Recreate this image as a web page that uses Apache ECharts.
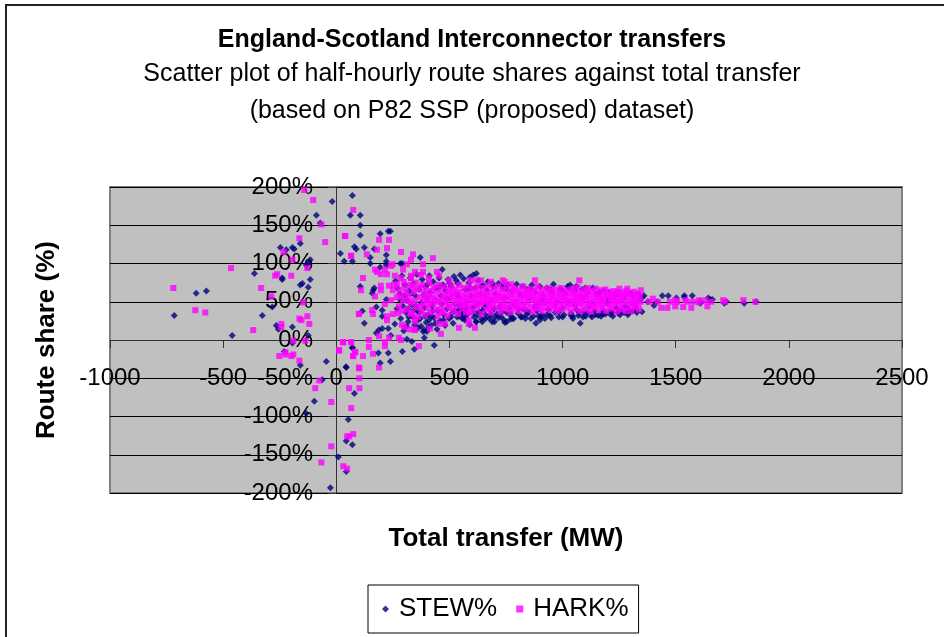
<!DOCTYPE html>
<html>
<head>
<meta charset="utf-8">
<title>England-Scotland Interconnector transfers</title>
<script src="https://cdn.jsdelivr.net/npm/echarts@6/dist/echarts.min.js"></script>
<style>
  html, body { margin: 0; padding: 0; background: #fff; }
  #chart { width: 944px; height: 637px; }
</style>
</head>
<body>
<div id="chart"></div>
<script>
const titleText = 'England-Scotland Interconnector transfers'
const subtitleLines = ['Scatter plot of half-hourly route shares against total transfer', '(based on P82 SSP (proposed) dataset)']
const xAxisName = 'Total transfer (MW)'
const yAxisName = 'Route share (%)'
const seriesNames = ['STEW%', 'HARK%']

// [MW, share %]
const stewSparse = [
  [-18,181],[71,189],[-88,163],[-71,153],[62,163],[106,163],[106,150],[106,137],[-159,126],[-247,121],[-221,118],[-194,121],[-186,119],
  [80,122],[88,119],[18,113],[-115,105],[35,103],[71,103],[-124,100],[-133,98],[-362,87],[-239,81],[-239,79],[-115,79],[-150,74],[-159,72],
  [-124,69],[106,70],[-619,61],[-574,64],[-283,43],[-716,32],[-327,32],[-265,19],[-256,14],[-194,17],[-124,6],[-460,6],
  [-194,-4],[71,-10],[-230,-15],[-44,-28],[-159,-33],[44,-36],[-62,-52],[80,-70],[-97,-80],[-133,-96],[53,-104],[44,-132],[71,-137],
  [9,-153],[44,-172],[-26,-193],
  [194,139],[230,142],[239,142],[124,121],[168,119],[150,108],[150,100],[221,111],[221,103],[221,98],[194,95],[283,100],[292,100],
  [371,108],[468,92],[548,85],[619,87],[115,38],[124,22],[159,61],[168,68],[163,65],[221,53],[177,43],[203,39],[203,31],[230,15],[188,13],
  [203,15],[177,9],[241,6],[259,21],[312,1],[334,-2],[389,3],[389,13],[409,17],[400,11],[345,-12],[433,-7],[292,-15],[186,-17],[230,-17],
  [71,-10],[194,-30],[239,-28],[43,-35],[882,22],[745,23],[753,24],[689,24],[645,24],[617,24],[779,28],
  [1078,22],[1033,72],[1855,50],[1803,48],[1724,50],[1715,48],[1644,55],[1653,53],[1662,53],[1609,50],[1609,48],[1573,58],[1538,58],[1538,56],
  [1503,55],[1467,58],[1441,58],[1404,45],[1360,58],[1351,56],[1289,33],[1254,33],[1351,37],[1377,50],[1417,50]
]
const stewDense = [
  [262,77],[270,68],[281,60],[290,84],[295,44],[303,72],[308,36],[312,52],[318,24],[322,64],[327,81],[333,46],[338,30],[341,74],[346,20],[350,58],
  [355,86],[358,38],[362,16],[367,66],[371,28],[376,49],[380,79],[384,11],[388,42],[393,70],[397,23],[402,55],[406,33],[411,84],[415,62],[419,19],
  [423,45],[428,76],[432,29],[436,52],[441,68],[445,14],[450,38],[454,81],[458,25],[463,58],[467,47],[472,72],[476,33],[481,19],[485,64],[490,41],
  [494,79],[499,28],[503,55],[507,70],[512,35],[516,22],[520,83],[525,47],[529,60],[534,30],[538,74],[542,40],[546,36],[549,44],[553,33],[556,46],
  [560,38],[563,80],[568,26],[572,66],[577,50],[581,34],[586,75],[590,20],[595,58],[600,42],[605,85],[609,30],[614,68],[619,24],[624,48],[628,78],
  [633,37],[638,60],[643,27],[648,72],[654,42],[659,33],[665,65],[670,76],[676,28],[682,52],[688,38],[693,70],[699,24],[705,60],[711,34],[717,74],
  [723,44],[729,30],[735,68],[741,26],[747,55],[753,36],[759,72],[765,42],[771,32],[778,64],[784,28],[790,50],[797,73],[803,35],[810,60],[816,30],
  [823,70],[830,40],[836,28],[843,66],[850,36],[857,54],[864,72],[871,31],[878,62],[885,38],[892,45],[900,70],[907,33],[915,58],[922,28],[930,68],
  [937,40],[945,32],[952,62],[960,73],[968,36],[975,50],[983,30],[990,66],[998,42],[1006,33],[1014,60],[1022,70],[1030,68],[1038,35],[1046,28],
  [1054,64],[1062,40],[1070,32],[1078,58],[1086,66],[1094,36],[1102,31],[1110,62],[1118,44],[1126,33],[1134,68],[1142,38],[1150,60],[1158,32],
  [1166,56],[1174,36],[1182,64],[1190,34],[1198,48],[1206,62],[1214,38],[1222,31],[1230,58],[1238,42],[1246,35],[1254,60],[1262,38],[1270,55],
  [1278,44],[1286,36],[1294,40],[1302,60],[1310,38],[1318,45],[1326,40],[1334,60],[1342,52],
  [544,31],[552,36],[558,42],[548,39],[566,34],[540,46],[320,30],[340,38],[362,26],[375,18],[392,31],[410,26],[427,38],[285,28],[298,12],[310,18],
  [476,70],[500,75],[530,78],[590,82],[640,70],[690,74],[740,72],[820,30],[860,28],[905,30],[950,29],[1000,30],[1045,31],[1090,30],[1130,30],
  [1170,31],[1210,34],[1250,36],[1300,37],[1100,68],[1060,70],[1180,34],[1240,60],[900,26],[840,33],[770,27],[700,30],[660,28],[610,36],[570,29],
  [268,41],[284,52],[302,58],[317,41],[331,61],[352,44],[369,36],[386,59],[404,73],[421,31],[438,22],[456,69],[473,26],[489,54],[506,30],[523,38],
  [539,57],[557,28],[574,41],[592,68],[611,45],[627,32],[645,38],[663,46],[681,33],[698,41],[716,29],[733,37],[752,67],[769,35],[787,46],[805,41],
  [822,58],[841,38],[858,67],[876,44],[894,31],[912,52],[931,33],[948,66],[966,44],[985,37],[1002,64],[1019,50],[1037,32],[1056,46],[1073,36],[1091,56],
  [1108,36],[1127,48],[1145,33],[1163,62],[1181,38],[1199,54],[1217,36],[1235,62],[1253,38],[1272,36],[1291,60],[1309,58],[1328,36]
]
const harkSparse = [
  [-141,196],[-102,183],[75,170],[-66,151],[40,136],[-163,133],[-49,128],[-233,115],[66,110],[-194,105],[-465,94],[-128,94],[-270,84],[-261,86],
  [-199,84],[-720,68],[-332,68],[-287,57],[-146,49],[-623,39],[-579,36],[-163,28],[-154,26],[-128,31],[-119,21],[-243,21],[-243,17],[-367,13],
  [100,34],[-190,-1],[31,-3],[66,-3],[-137,-1],[13,-14],[-225,-16],[-225,-19],[-252,-21],[-199,-21],[-190,-19],[75,-21],[84,-16],[-163,-27],
  [102,-37],[-75,-53],[102,-50],[-93,-63],[57,-63],[102,-63],[-22,-81],[66,-89],[75,-123],[48,-126],[57,-126],[-22,-139],[-66,-160],[31,-165],[48,-168],
  [38,136],[65,110],[189,131],[233,131],[224,120],[180,118],[135,112],[286,115],[339,112],[330,105],[427,107],[312,99],[383,99],[250,99],[242,97],
  [215,92],[171,92],[180,89],[197,86],[224,86],[118,81],[259,84],[295,92],[286,81],[330,84],[330,81],[348,89],[383,89],[374,85],[409,81],[445,89],
  [454,84],[498,78],[592,78],[614,78],[639,78],[683,76],[736,78],[745,76],[878,78],[772,73],[109,65],[171,57],[197,71],[197,65],[233,71],[268,73],
  [250,65],[215,47],[286,58],[295,52],[277,44],[242,52],[158,39],[162,34],[100,34],[224,31],[224,26],[250,34],[272,35],[290,20],[299,17],[348,28],
  [348,24],[348,13],[189,5],[233,3],[215,-3],[215,-8],[277,3],[286,0],[144,0],[144,-9],[29,-3],[65,-3],[12,-13],[82,-16],[74,-21],[118,-21],[162,-18],
  [365,-8],[100,-36],[189,-36],[462,8],[542,16],[613,16],[586,26],[586,21],[454,21],[480,21],[414,15],[321,14],[343,14],
  [1074,78],[1286,67],[1251,67],[1251,62],[1346,65],[1399,54],[1382,50],[1421,50],[1475,50],[1498,52],[1507,50],[1498,44],[1463,42],[1436,42],
  [1533,43],[1569,42],[1542,52],[1551,50],[1578,50],[1604,52],[1604,49],[1631,52],[1640,44],[1657,50],[1710,52],[1719,50],[1799,52],[1852,50]
]
const harkDense = [
  [305,68],[312,40],[318,58],[326,72],[331,48],[336,36],[342,63],[347,52],[352,75],[357,43],[361,30],[366,68],[370,56],[375,38],[380,72],[384,48],
  [388,61],[392,33],[397,66],[401,52],[405,42],[410,75],[414,58],[418,36],[423,64],[427,47],[431,70],[435,54],[440,40],[444,62],[448,31],[453,72],
  [457,50],[461,66],[465,43],[470,57],[474,36],[478,70],[483,60],[487,48],[491,32],[496,65],[500,54],[504,42],[509,71],[513,58],[517,37],[521,50],
  [526,66],[530,45],[534,61],[539,34],[543,72],[547,53],[551,63],[556,41],[560,57],[564,68],[569,48],[573,36],[577,60],[582,52],[586,70],[590,44],
  [594,62],[599,55],[603,38],[607,67],[612,49],[616,59],[620,42],[625,70],[629,53],[633,63],[637,46],[642,34],[646,57],[650,68],[655,50],[659,61],
  [663,40],[667,54],[672,71],[676,45],[680,63],[684,36],[689,56],[693,48],[697,67],[702,59],[706,42],[710,52],[714,70],[719,62],[723,46],[727,37],
  [731,57],[736,66],[740,50],[744,42],[749,60],[753,70],[757,54],[761,45],[766,63],[770,36],[774,57],[779,50],[783,68],[787,41],[791,60],[796,53],
  [800,47],[804,65],[808,38],[813,56],[817,62],[821,44],[826,70],[830,51],[834,58],[838,40],[843,64],[847,49],[851,55],[856,67],[860,43],[864,60],
  [868,37],[873,52],[877,65],[881,47],[885,59],[890,70],[894,41],[898,54],[903,62],[907,48],[911,38],[915,66],[920,56],[924,44],[928,60],[933,51],
  [937,68],[941,40],[945,57],[950,47],[954,63],[958,53],[962,42],[967,66],[971,58],[975,38],[980,50],[984,61],[988,45],[992,68],[997,54],[1001,40],
  [1005,60],[1009,48],[1014,65],[1018,56],[1022,43],[1027,62],[1031,51],[1035,37],[1039,67],[1044,55],[1048,46],[1052,60],[1056,41],[1061,52],
  [1065,69],[1069,47],[1074,63],[1078,38],[1082,57],[1086,50],[1091,44],[1095,66],[1099,60],[1103,40],[1108,53],[1112,68],[1116,46],[1121,58],
  [1125,37],[1129,64],[1133,50],[1138,55],[1142,43],[1146,67],[1150,61],[1155,47],[1159,39],[1163,56],[1168,65],[1172,50],[1176,42],[1180,60],
  [1185,53],[1189,66],[1193,38],[1197,47],[1202,57],[1206,63],[1210,43],[1215,50],[1219,41],[1223,60],[1227,64],[1232,47],[1236,55],[1240,37],
  [1244,62],[1249,51],[1253,44],[1257,58],[1262,40],[1266,48],[1270,55],[1274,62],[1279,38],[1283,50],[1287,60],[1291,43],[1296,56],[1300,62],
  [1304,38],[1308,47],[1313,54],[1317,63],[1321,43],[1326,60],[1330,51],[1334,47],[1338,40],[1342,57],
  [450,52],[520,60],[575,44],[630,58],[680,50],[735,44],[790,66],[845,58],[900,46],[955,56],[1010,52],[1065,58],[1120,48],[1175,54],[500,62],[610,48],
  [720,55],[830,60],[940,50],[1050,50],[1160,52],[555,52],[665,60],[775,48],[885,52],[995,60],[1105,56],[1215,58],
  [255,72],[268,56],[279,66],[292,38],[298,76],[309,62],[321,51],[329,34],[338,70],[355,66],[372,44],[391,56],[408,48],[426,55],[443,50],[462,37],
  [480,52],[498,44],[515,64],[533,52],[552,46],[571,56],[589,36],[606,52],[624,60],[643,50],[661,53],[679,42],[698,52],[717,58],[737,54],[756,40],
  [775,60],[794,44],[812,50],[831,44],[850,62],[869,56],[888,42],[907,58],[926,48],[946,64],[965,46],[986,54],[1006,56],[1026,47],[1046,62],[1067,54],
  [1088,52],[1109,64],[1131,44],[1152,56],[1173,46],[1195,60],[1216,54],[1238,50],[1260,54],[1281,64],[1303,50],[1324,56],[1346,50]
]

const stewPoints = stewSparse.concat(stewDense)
const harkPoints = harkSparse.concat(harkDense)

const chart = echarts.init(document.getElementById('chart'), null, { renderer: 'canvas' })
const font = '"Liberation Sans", Arial, sans-serif'

chart.setOption({
  animation: false,
  backgroundColor: '#fff',
  textStyle: { fontFamily: font },
  title: [
    { text: titleText, left: 'center', top: 23, textStyle: { fontFamily: font, fontSize: 25, fontWeight: 'bold', color: '#000' } },
    { text: subtitleLines[0], left: 'center', top: 57, textStyle: { fontFamily: font, fontSize: 25, fontWeight: 'normal', color: '#000' } },
    { text: subtitleLines[1], left: 'center', top: 94, textStyle: { fontFamily: font, fontSize: 25, fontWeight: 'normal', color: '#000' } }
  ],
  legend: {
    left: 368,
    top: 585,
    padding: [11, 10, 11, 14],
    itemGap: 19,
    itemWidth: 7,
    itemHeight: 7,
    borderColor: '#000',
    borderWidth: 1,
    textStyle: { fontFamily: font, fontSize: 26, color: '#000', padding: [0, 0, 0, 5] },
    data: [
      { name: seriesNames[0], icon: 'diamond' },
      { name: seriesNames[1], icon: 'rect' }
    ]
  },
  grid: {
    left: 110,
    top: 187,
    width: 792,
    height: 306,
    outerBoundsMode: 'none',
    show: true,
    backgroundColor: '#C0C0C0',
    borderColor: '#808080',
    borderWidth: 2
  },
  xAxis: {
    type: 'value',
    min: -1000,
    max: 2500,
    interval: 500,
    name: xAxisName,
    nameLocation: 'middle',
    nameGap: 33,
    nameMoveOverlap: false,
    nameTextStyle: { fontFamily: font, fontSize: 26, fontWeight: 'bold', color: '#000', letterSpacing: 1.8 },
    axisLine: { onZero: true, lineStyle: { color: '#333', width: 1 } },
    axisTick: { show: true, length: 8, lineStyle: { color: '#333' } },
    // labels sit at the plot edge here, so pull them back up to the zero line
    axisLabel: { margin: -127, fontSize: 24, color: '#000', formatter: (v) => String(v), hideOverlap: false, showMinLabel: true, showMaxLabel: true },
    splitLine: { show: false }
  },
  yAxis: {
    type: 'value',
    min: -200,
    max: 200,
    interval: 50,
    name: yAxisName,
    nameLocation: 'middle',
    nameGap: 50,
    nameMoveOverlap: false,
    nameTextStyle: { fontFamily: font, fontSize: 26, fontWeight: 'bold', color: '#000', letterSpacing: 0.7 },
    axisLine: { onZero: true, lineStyle: { color: '#333', width: 1 } },
    axisTick: { show: true, length: 8, lineStyle: { color: '#333' } },
    axisLabel: { margin: -203, fontSize: 24, color: '#000', formatter: '{value}%', hideOverlap: false, showMinLabel: true, showMaxLabel: true },
    splitLine: { show: true, lineStyle: { color: '#000', width: 1 } }
  },
  series: [
    {
      name: seriesNames[0],
      type: 'scatter',
      symbol: 'diamond',
      symbolSize: 7,
      itemStyle: { color: '#000080' },
      z: 3,
      data: stewPoints
    },
    {
      name: seriesNames[1],
      type: 'scatter',
      symbol: 'rect',
      symbolSize: 6,
      itemStyle: { color: '#FF00FF' },
      z: 4,
      data: harkPoints
    }
  ],
  graphic: [
    // chart frame, only the top and left edges fall inside the image
    { type: 'rect', silent: true, z: -1, shape: { x: 6, y: 5, width: 1000, height: 700 }, style: { fill: 'none', stroke: '#222', lineWidth: 2 } }
  ]
})
</script>
</body>
</html>
